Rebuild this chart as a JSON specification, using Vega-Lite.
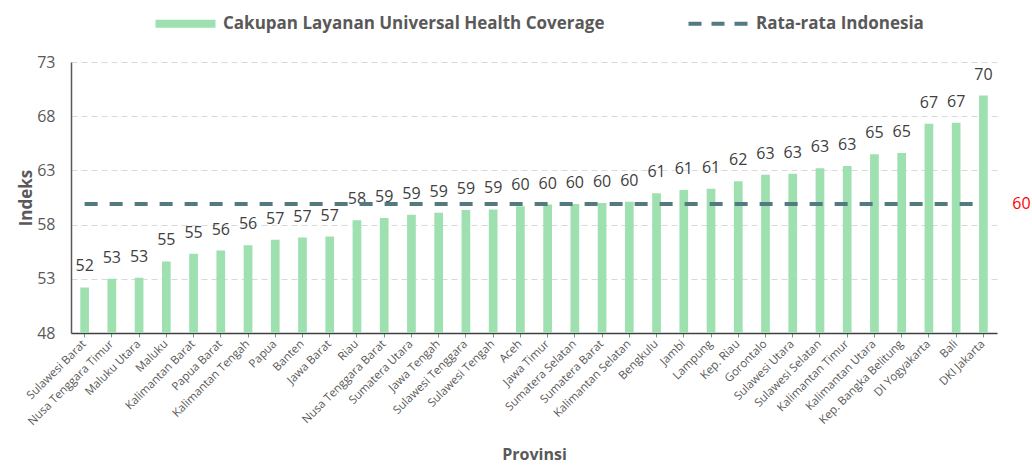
{
  "$schema": "https://vega.github.io/schema/vega-lite/v6.json",
  "width": 926,
  "height": 271,
  "autosize": {"type": "none"},
  "padding": {"left": 71, "top": 62, "right": 35, "bottom": 135},
  "background": "white",
  "config": {
    "view": {"stroke": null},
    "font": "Open Sans"
  },
  "data": {
    "values": [
      {"p": "Sulawesi Barat", "v": 52.2, "avg": 59.9},
      {"p": "Nusa Tenggara Timur", "v": 53.0, "avg": 59.9},
      {"p": "Maluku Utara", "v": 53.1, "avg": 59.9},
      {"p": "Maluku", "v": 54.6, "avg": 59.9},
      {"p": "Kalimantan Barat", "v": 55.3, "avg": 59.9},
      {"p": "Papua Barat", "v": 55.6, "avg": 59.9},
      {"p": "Kalimantan Tengah", "v": 56.1, "avg": 59.9},
      {"p": "Papua", "v": 56.6, "avg": 59.9},
      {"p": "Banten", "v": 56.8, "avg": 59.9},
      {"p": "Jawa Barat", "v": 56.9, "avg": 59.9},
      {"p": "Riau", "v": 58.4, "avg": 59.9},
      {"p": "Nusa Tenggara Barat", "v": 58.6, "avg": 59.9},
      {"p": "Sumatera Utara", "v": 58.9, "avg": 59.9},
      {"p": "Jawa Tengah", "v": 59.1, "avg": 59.9},
      {"p": "Sulawesi Tenggara", "v": 59.35, "avg": 59.9},
      {"p": "Sulawesi Tengah", "v": 59.4, "avg": 59.9},
      {"p": "Aceh", "v": 59.7, "avg": 59.9},
      {"p": "Jawa Timur", "v": 59.85, "avg": 59.9},
      {"p": "Sumatera Selatan", "v": 59.9, "avg": 59.9},
      {"p": "Sumatera Barat", "v": 60.0, "avg": 59.9},
      {"p": "Kalimantan Selatan", "v": 60.1, "avg": 59.9},
      {"p": "Bengkulu", "v": 60.9, "avg": 59.9},
      {"p": "Jambi", "v": 61.2, "avg": 59.9},
      {"p": "Lampung", "v": 61.3, "avg": 59.9},
      {"p": "Kep. Riau", "v": 62.0, "avg": 59.9},
      {"p": "Gorontalo", "v": 62.6, "avg": 59.9},
      {"p": "Sulawesi Utara", "v": 62.7, "avg": 59.9},
      {"p": "Sulawesi Selatan", "v": 63.2, "avg": 59.9},
      {"p": "Kalimantan Timur", "v": 63.4, "avg": 59.9},
      {"p": "Kalimantan Utara", "v": 64.5, "avg": 59.9},
      {"p": "Kep. Bangka Belitung", "v": 64.6, "avg": 59.9},
      {"p": "DI Yogyakarta", "v": 67.3, "avg": 59.9},
      {"p": "Bali", "v": 67.4, "avg": 59.9},
      {"p": "DKI Jakarta", "v": 69.9, "avg": 59.9}
    ]
  },
  "encoding": {
    "x": {
      "field": "p",
      "type": "nominal",
      "sort": null,
      "scale": {"paddingInner": 0, "paddingOuter": 0},
      "axis": {
        "title": "Provinsi",
        "titleFontSize": 16,
        "titleFontWeight": "bold",
        "titleColor": "#595959",
        "titlePadding": 19,
        "labelAngle": -45,
        "labelAlign": "right",
        "labelBaseline": "middle",
        "labelFontSize": 11.5,
        "labelColor": "#595959",
        "labelPadding": 5,
        "ticks": true,
        "tickSize": 4,
        "tickColor": "#8c8c8c",
        "domainColor": "#404040",
        "domainWidth": 1.5,
        "labelLimit": 0
      }
    }
  },
  "layer": [
    {
      "mark": {"type": "bar", "width": {"band": 0.32}, "clip": true},
      "encoding": {
        "y": {
          "field": "v",
          "type": "quantitative",
          "scale": {"domain": [48, 73], "nice": false, "zero": false},
          "axis": {
            "values": [48, 53, 58, 63, 68, 73],
            "title": "Indeks",
            "titleFontSize": 17,
            "titleFontWeight": "bold",
            "titleColor": "#595959",
            "titlePadding": 1,
            "labelFontSize": 16,
            "labelColor": "#595959",
            "labelPadding": 16,
            "ticks": false,
            "grid": true,
            "gridColor": "#d9d9d9",
            "gridDash": [6, 4],
            "gridWidth": 1,
            "domainColor": "#595959",
            "domainWidth": 1.5
          }
        },
        "color": {
          "datum": "Cakupan Layanan Universal Health Coverage",
          "scale": {
            "domain": ["Cakupan Layanan Universal Health Coverage", "Rata-rata Indonesia"],
            "range": ["#9fe0b0", "#527a7f"]
          },
          "legend": {
            "title": null,
            "orient": "none",
            "legendX": 106,
            "legendY": -47,
            "direction": "horizontal",
            "labelFontSize": 17,
            "labelFontWeight": "bold",
            "labelColor": "#595959",
            "labelLimit": 0,
            "labelOffset": 29,
            "columnPadding": 75,
            "symbolSize": 3600,
            "encode": {
              "symbols": {
                "update": {
                  "shape": {"signal": "datum.value === 'Rata-rata Indonesia' ? 'M-1,0L1,0' : 'M-1,-0.13L1,-0.13L1,0.13L-1,0.13Z'"},
                  "fill": {"signal": "datum.value === 'Rata-rata Indonesia' ? 'transparent' : '#9fe0b0'"},
                  "stroke": {"signal": "datum.value === 'Rata-rata Indonesia' ? '#527a7f' : '#9fe0b0'"},
                  "strokeWidth": {"signal": "datum.value === 'Rata-rata Indonesia' ? 4 : 0"},
                  "strokeDash": {"signal": "datum.value === 'Rata-rata Indonesia' ? [13, 10] : []"},
                  "opacity": {"value": 1}
                }
              }
            }
          }
        }
      }
    },
    {
      "mark": {"type": "text", "baseline": "middle", "dy": -21, "fontSize": 16, "color": "#404040"},
      "encoding": {
        "y": {"field": "v", "type": "quantitative"},
        "text": {"field": "v", "type": "quantitative", "format": ".0f"}
      }
    },
    {
      "mark": {"type": "line", "strokeWidth": 4, "strokeDash": [13, 12]},
      "encoding": {
        "y": {"field": "avg", "type": "quantitative"},
        "color": {"datum": "Rata-rata Indonesia"}
      }
    },
    {
      "transform": [{"filter": "datum.p === 'DKI Jakarta'"}],
      "mark": {"type": "text", "baseline": "middle", "align": "center", "dx": 38, "fontSize": 16, "color": "#ff0000"},
      "encoding": {
        "y": {"field": "avg", "type": "quantitative"},
        "text": {"field": "avg", "type": "quantitative", "format": ".0f"}
      }
    }
  ]
}
